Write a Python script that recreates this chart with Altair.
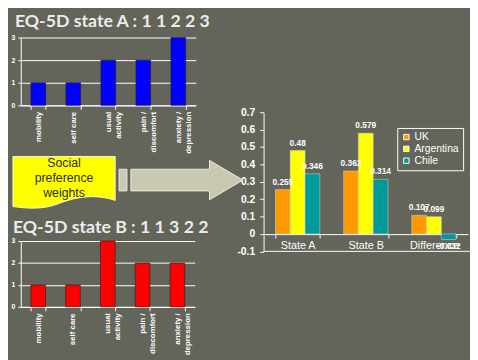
import altair as alt
import pandas as pd

# ---------------- data ----------------
dimensions = ["mobility", "self care", "usual\nactivity", "pain  /\ndiscomfort", "anxiety  /\ndepression"]
state_a = [1, 1, 2, 2, 3]
state_b = [1, 1, 3, 2, 2]
left_ticks = [0, 1, 2, 3]

groups = ["State A", "State B", "Difference"]
countries = ["UK", "Argentina", "Chile"]
uk = [0.255, 0.362, 0.107]
argentina = [0.48, 0.579, 0.099]
chile = [0.346, 0.314, -0.032]
right_ticks = [-0.1, 0, 0.1, 0.2, 0.3, 0.4, 0.5, 0.6, 0.7]
country_colors = ["#FF9900", "#FFFF00", "#009999"]

callout = ["Social", "preference", "weights"]
title_a = "EQ-5D state A : " + " ".join(str(v) for v in state_a)
title_b = "EQ-5D state B : " + " ".join(str(v) for v in state_b)

FONT = "Liberation Sans"
W, H = 470, 352  # visible canvas (page margin 8px)

df_a = pd.DataFrame({"dim": dimensions, "level": state_a})
df_b = pd.DataFrame({"dim": dimensions, "level": state_b})

rows = []
for gi, g in enumerate(groups):
    for c, vals in zip(countries, [uk, argentina, chile]):
        v = vals[gi]
        rows.append({"group": g, "country": c, "value": v, "label": f"{v:g}"})
df_r = pd.DataFrame(rows)

one = pd.DataFrame({"k": [0]})


def eq_chart(df, color, x_range, y_range, x_axis_y):
    x = alt.X(
        "dim:N",
        scale=alt.Scale(domain=dimensions, range=x_range, paddingInner=0.58, paddingOuter=0.29),
        axis=alt.Axis(
            orient="bottom", offset=x_axis_y - H, title=None, tickBand="extent",
            labelAngle=270, labelAlign="right", labelBaseline="middle",
            labelExpr="split(datum.label, '\\n')", labelLineHeight=10,
            labelFont=FONT, labelFontSize=8, labelFontWeight="bold", labelColor="white",
            labelPadding=2, labelOverlap=False, labelLimit=200,
            domainColor="white", domainWidth=1, tickColor="white", tickSize=4, grid=False,
        ),
    )
    y = alt.Y(
        "level:Q",
        scale=alt.Scale(domain=[0, 3], range=y_range, nice=False),
        axis=alt.Axis(
            orient="left", offset=-x_range[0], title=None, values=left_ticks,
            grid=True, gridColor="white", gridWidth=1, gridOpacity=1,
            domainColor="white", tickColor="white", tickSize=3,
            labelFont=FONT, labelFontSize=7, labelFontWeight="bold", labelColor="white",
            labelPadding=3,
        ),
    )
    return alt.Chart(df).mark_bar(color=color, stroke="#202020", strokeWidth=0.6).encode(x=x, y=y)


chart_a = eq_chart(df_a, "#0000FF", [13, 191], [96, 27], 96)
chart_b = eq_chart(df_b, "#FF0000", [13, 190], [301, 234], 301)

# ---------------- right chart ----------------
rx = alt.X(
    "group:N",
    scale=alt.Scale(domain=groups, range=[260, 468], paddingInner=0.35, paddingOuter=0.175),
    axis=alt.Axis(
        orient="bottom", offset=227 - H, title=None, tickBand="extent", labelAngle=0,
        labelFont=FONT, labelFontSize=11, labelColor="white", labelPadding=2,
        domainColor="white", tickColor="white", tickSize=4, grid=False,
    ),
)
rxo = alt.XOffset("country:N", scale=alt.Scale(domain=countries))
ry = alt.Y(
    "value:Q", stack=None,
    scale=alt.Scale(domain=[-0.1, 0.7], range=[244.5, 103], nice=False, zero=False),
    axis=alt.Axis(
        orient="left", offset=-260, title=None, values=right_ticks,
        labelExpr="datum.value < 0 ? '-' + format(-datum.value, '.1f') : (datum.value == 0 ? '0' : format(datum.value, '.1f'))",
        labelFont=FONT, labelFontSize=10.5, labelFontWeight="bold", labelColor="white",
        labelPadding=5, domainColor="white", tickColor="white", tickSize=4, grid=False,
    ),
)
rcolor = alt.Color(
    "country:N",
    scale=alt.Scale(domain=countries, range=country_colors),
    legend=alt.Legend(
        orient="none", legendX=396, legendY=119, title=None,
        strokeColor="white", padding=4, rowPadding=1,
        symbolType="square", symbolSize=30, symbolStrokeColor="white", symbolStrokeWidth=1,
        symbolOpacity=1, labelFont=FONT, labelFontSize=10.5, labelColor="white", labelOffset=3,
    ),
)

bars = alt.Chart(df_r).mark_bar(stroke="#dddddd", strokeWidth=0.5).encode(
    x=rx, xOffset=rxo, y=ry, color=rcolor
)
lab_style = dict(font=FONT, fontSize=8.5, fontWeight="bold", color="white")
pos_labels = alt.Chart(df_r).transform_filter("datum.value >= 0").mark_text(
    baseline="bottom", dy=-3, **lab_style
).encode(x=rx, xOffset=rxo, y=ry, text="label:N")
neg_labels = alt.Chart(df_r).transform_filter("datum.value < 0").mark_text(
    baseline="top", dy=3, **lab_style
).encode(x=rx, xOffset=rxo, y=ry, text="label:N")
bottom_rule = alt.Chart(one).mark_rule(color="white", strokeWidth=1).encode(
    y=alt.Y(datum=-0.1), x=alt.value(260), x2=alt.value(W)
)
right = alt.layer(bars, pos_labels, neg_labels, bottom_rule)

# ---------------- decorations ----------------
title_style = dict(align="left", baseline="alphabetic", font="Lato", fontSize=18,
                   fontWeight="bold", color="#ececec")
t_a = alt.Chart(one).mark_text(**title_style).encode(
    x=alt.value(7), y=alt.value(16), text=alt.value(title_a))
t_b = alt.Chart(one).mark_text(**title_style).encode(
    x=alt.value(5), y=alt.value(226), text=alt.value(title_b))

doc_path = "M-1,-0.5 L1,-0.5 L1,0.36 C0.6,0.22 0.2,0.3 -0.1,0.42 C-0.4,0.54 -0.7,0.52 -1,0.48 Z"
box = alt.Chart(one).mark_point(
    shape=doc_path, size=104 ** 2, filled=True, fill="#FFFF00", stroke="#f4f4d8",
    strokeWidth=1, opacity=1,
).encode(x=alt.value(57), y=alt.value(174))
box_text = alt.Chart(one).mark_text(
    align="center", baseline="middle", lineHeight=15, font=FONT, fontSize=12.5, color="#2a2a2a"
).encode(x=alt.value(57), y=alt.value(155), text=alt.value(callout))

small_rect = alt.Chart(one).mark_rect(fill="#c9c9b2", stroke="#ececE4", strokeWidth=1).encode(
    x=alt.value(113), x2=alt.value(121), y=alt.value(161), y2=alt.value(183))
arrow_path = "M-1,-0.193 L0.404,-0.193 L0.404,-0.351 L1,0 L0.404,0.351 L0.404,0.193 L-1,0.193 Z"
arrow = alt.Chart(one).mark_point(
    shape=arrow_path, size=114 ** 2, filled=True, fill="#c9c9b2", stroke="#ececE4",
    strokeWidth=1, opacity=1,
).encode(x=alt.value(182), y=alt.value(172))

chart = alt.layer(
    chart_a, chart_b, right, t_a, t_b, box, box_text, small_rect, arrow
).resolve_scale(
    x="independent", y="independent"
).properties(
    width=W, height=H, padding=0, autosize=alt.AutoSizeParams(type="none"),
    background="#63645a",
).configure_view(stroke="transparent")

chart.save("out.html", embed_options={"renderer": "svg", "actions": False})
